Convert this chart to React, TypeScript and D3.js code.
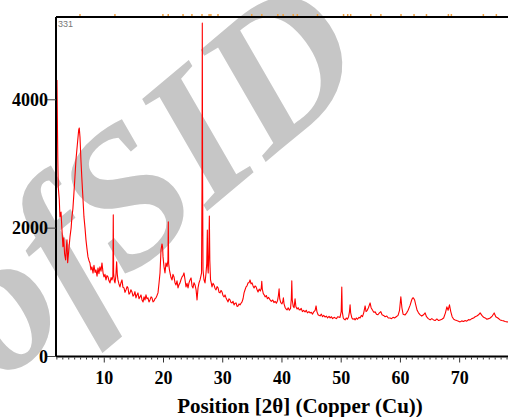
import { useMemo } from "react";
import * as d3 from "d3";

// XRD scan: 2θ (deg) and counts
const twoTheta = [
  2.01, 2.06, 2.15, 2.23, 2.4, 2.52, 2.7, 2.86, 3.02, 3.15, 3.3, 3.48, 3.6, 3.7, 3.82, 4.0, 4.21, 4.4, 4.54, 4.7,
  4.88, 5.05, 5.22, 5.45, 5.6, 5.68, 5.78, 5.9, 6.06, 6.2, 6.35, 6.57, 6.75, 6.91, 7.05, 7.25, 7.4, 7.58, 7.75, 7.92,
  8.1, 8.26, 8.45, 8.6, 8.78, 8.94, 9.1, 9.27, 9.45, 9.61, 9.8, 9.95, 10.12, 10.29, 10.45, 10.63, 10.8, 10.96, 11.15, 11.3,
  11.45, 11.52, 11.58, 11.7, 11.81, 11.95, 12.09, 12.2, 12.31, 12.48, 12.65, 12.82, 12.99, 13.15, 13.33, 13.5, 13.67, 13.85, 14.0, 14.17,
  14.34, 14.5, 14.68, 14.85, 15.02, 15.18, 15.35, 15.52, 15.69, 15.86, 16.03, 16.2, 16.37, 16.55, 16.71, 16.88, 17.04, 17.2, 17.38, 17.55,
  17.72, 17.9, 18.06, 18.23, 18.4, 18.56, 18.73, 18.9, 19.07, 19.25, 19.41, 19.58, 19.75, 19.85, 19.92, 20.09, 20.25, 20.42, 20.6, 20.75,
  20.81, 20.87, 21.0, 21.1, 21.27, 21.44, 21.6, 21.77, 21.94, 22.11, 22.28, 22.45, 22.62, 22.79, 22.96, 23.13, 23.3, 23.46, 23.63, 23.8,
  23.97, 24.14, 24.31, 24.48, 24.65, 24.82, 24.98, 25.15, 25.32, 25.5, 25.66, 25.83, 26.0, 26.17, 26.3, 26.42, 26.5, 26.55, 26.6, 26.67,
  26.84, 27.01, 27.18, 27.3, 27.4, 27.47, 27.55, 27.65, 27.74, 27.82, 27.94, 28.05, 28.19, 28.36, 28.53, 28.7, 28.87, 29.04, 29.21, 29.38,
  29.54, 29.71, 29.88, 30.05, 30.22, 30.39, 30.56, 30.73, 30.9, 31.06, 31.23, 31.4, 31.57, 31.74, 31.91, 32.08, 32.25, 32.42, 32.58, 32.75,
  32.92, 33.09, 33.26, 33.43, 33.6, 33.77, 33.94, 34.1, 34.27, 34.45, 34.61, 34.78, 34.95, 35.12, 35.29, 35.46, 35.63, 35.8, 35.96, 36.15,
  36.35, 36.5, 36.59, 36.68, 36.85, 37.0, 37.15, 37.35, 37.55, 37.75, 38.0, 38.2, 38.45, 38.65, 38.84, 39.05, 39.25, 39.4, 39.52, 39.62,
  39.8, 40.0, 40.15, 40.24, 40.35, 40.55, 40.7, 40.86, 41.05, 41.25, 41.45, 41.58, 41.66, 41.74, 41.9, 42.05, 42.21, 42.35, 42.55, 42.75,
  42.9, 43.06, 43.25, 43.45, 43.65, 43.9, 44.1, 44.3, 44.55, 44.75, 44.95, 45.15, 45.4, 45.6, 45.76, 45.9, 46.1, 46.3, 46.44, 46.65,
  46.85, 47.05, 47.29, 47.5, 47.7, 47.95, 48.13, 48.35, 48.55, 48.8, 48.98, 49.2, 49.4, 49.8, 50.0, 50.1, 50.18, 50.35, 50.5, 50.66,
  50.85, 51.05, 51.25, 51.4, 51.5, 51.6, 51.8, 52.0, 52.2, 52.35, 52.55, 52.75, 53.0, 53.19, 53.4, 53.6, 53.8, 54.04, 54.2, 54.4,
  54.6, 54.88, 55.05, 55.3, 55.5, 55.73, 55.95, 56.2, 56.45, 56.69, 56.9, 57.15, 57.42, 57.7, 57.95, 58.26, 58.5, 58.75, 59.0, 59.3,
  59.6, 59.85, 60.07, 60.25, 60.45, 60.79, 61.05, 61.3, 61.64, 61.9, 62.05, 62.2, 62.4, 62.6, 62.82, 63.05, 63.33, 63.6, 63.9, 64.17,
  64.4, 64.7, 65.02, 65.3, 65.6, 65.86, 66.15, 66.45, 66.71, 67.0, 67.3, 67.6, 67.84, 68.05, 68.28, 68.5, 68.73, 69.0, 69.24, 69.5,
  69.8, 70.08, 70.35, 70.65, 70.93, 71.2, 71.5, 71.77, 72.05, 72.35, 72.62, 72.9, 73.2, 73.46, 73.75, 74.05, 74.31, 74.6, 74.9, 75.15,
  75.5, 75.83, 76.1, 76.45, 76.84, 77.15, 77.45, 77.69, 78.0, 78.3, 78.6, 79.0,
];

const counts = [
  4310, 3900, 3100, 2640, 2450, 2175, 2250, 1970, 1710, 1850, 1600, 1505, 1700, 1817, 1460, 1650, 1863, 2000, 2175, 2300,
  2549, 2800, 3063, 3300, 3450, 3530, 3560, 3420, 3063, 2800, 2549, 2175, 2000, 1817, 1700, 1552, 1500, 1458, 1350, 1396,
  1300, 1420, 1310, 1349, 1250, 1380, 1290, 1396, 1330, 1458, 1300, 1240, 1280, 1193, 1260, 1240, 1180, 1147, 1230, 1193,
  1250, 2206, 1300, 1180, 1147, 1250, 1474, 1280, 1193, 1130, 1084, 1150, 1193, 1080, 1069, 1000, 1038, 1090, 1069, 970,
  991, 1040, 1006, 940, 960, 1010, 913, 960, 991, 900, 929, 960, 882, 850, 929, 880, 960, 900, 913, 850,
  882, 930, 913, 850, 866, 900, 913, 950, 991, 1150, 1302, 1661, 1754, 1700, 1552, 1396, 1302, 1458, 1400, 1500,
  2097, 1450, 1350, 1302, 1230, 1193, 1280, 1240, 1150, 1115, 1180, 1069, 1120, 1147, 1200, 1240, 1260, 1302, 1200, 1084,
  1140, 1069, 1150, 1193, 1225, 1100, 1069, 1150, 1115, 1040, 882, 1069, 1150, 1193, 1250, 1300, 2600, 5194, 2800, 1350,
  1193, 1147, 1302, 1450, 1972, 1400, 1302, 1600, 2190, 1500, 1193, 1150, 1084, 1140, 1115, 1060, 1038, 1090, 1069, 1000,
  991, 1030, 1006, 950, 929, 960, 913, 880, 851, 900, 882, 840, 835, 860, 804, 830, 835, 780, 788, 820,
  804, 830, 851, 900, 991, 1040, 1084, 1100, 1147, 1150, 1193, 1130, 1147, 1100, 1069, 1100, 1084, 1040, 1006, 1050,
  1020, 1060, 1170, 1050, 980, 960, 929, 950, 900, 920, 882, 860, 880, 840, 860, 830, 870, 950, 1053, 900,
  840, 820, 860, 913, 820, 760, 740, 726, 760, 720, 750, 900, 1178, 880, 780, 760, 900, 780, 740, 760,
  730, 726, 750, 700, 720, 695, 720, 680, 700, 679, 690, 660, 700, 720, 788, 700, 650, 640, 633, 660,
  620, 640, 615, 630, 601, 625, 601, 620, 590, 610, 601, 590, 620, 610, 700, 1084, 700, 600, 580, 570,
  600, 580, 620, 700, 804, 680, 600, 580, 590, 570, 600, 580, 610, 600, 640, 620, 680, 788, 700, 720,
  760, 835, 760, 720, 690, 695, 660, 650, 680, 700, 650, 640, 620, 630, 600, 601, 590, 610, 600, 620,
  640, 720, 929, 760, 660, 648, 680, 720, 800, 880, 910, 913, 880, 800, 720, 680, 648, 630, 650, 679,
  620, 590, 570, 590, 570, 560, 585, 560, 570, 580, 600, 680, 773, 720, 804, 700, 620, 580, 570, 560,
  550, 539, 555, 545, 560, 550, 575, 570, 590, 600, 620, 630, 650, 679, 640, 610, 601, 580, 590, 600,
  630, 679, 620, 600, 570, 560, 555, 545, 540, 535, 530, 528,
];

// reference-pattern markers along the top edge (2θ)
const refMarkers = [
  5.9, 11.8, 19.9, 20.8, 23.3, 24.8, 26.5, 27.7, 28.0, 29.2, 34.9, 36.6, 39.3, 40.2, 41.9, 42.6, 46.0, 50.4, 51.1, 51.6,
  55.0, 56.7, 60.1, 62.3, 64.4, 68.1, 68.6, 74.0, 76.2,
];

const xTickLabels = [10, 20, 30, 40, 50, 60, 70];
const yTickLabels = [0, 2000, 4000];
const xTitle = "Position [2θ] (Copper (Cu))";

const W = 508;
const H = 417;
const serif = "'Liberation Serif', 'Times New Roman', serif";

export default function App() {
  const left = 56;
  const top = 17;
  const bottom = 356.5;

  const x = useMemo(() => d3.scaleLinear().domain([1.85, 80]).range([left, left + 78.15 * 5.923]), []);
  const y = useMemo(() => d3.scaleLinear().domain([0, 5290]).range([bottom, top]), []);

  const data = twoTheta.map((t, i) => ({ t, c: counts[i] }));
  const line = d3
    .line<{ t: number; c: number }>()
    .x((d) => x(d.t))
    .y((d) => y(d.c));

  const right = x(80);
  const minor = d3.range(2, 80, 1);

  return (
    <svg width={W} height={H} style={{ position: "absolute", left: 0, top: 0, background: "#fff" }}>
      {/* watermark */}
      <text
        transform="translate(1,384) rotate(-40)"
        fontFamily={serif}
        fontStyle="italic"
        fontWeight="bold"
        fontSize={195}
        fill="#c6c6c6"
      >
        ofSID
      </text>

      {/* data */}
      <path d={line(data) ?? ""} fill="none" stroke="#ff0000" strokeWidth={1.1} strokeLinejoin="round" />

      {/* frame */}
      <line x1={left} x2={right} y1={top} y2={top} stroke="#000" strokeWidth={2} />
      <line x1={left} x2={left} y1={top} y2={bottom} stroke="#000" strokeWidth={2} />
      <line x1={left} x2={right} y1={bottom} y2={bottom} stroke="#000" strokeWidth={2} />

      {refMarkers.map((m) => (
        <line key={m} x1={x(m)} x2={x(m)} y1={top - 3} y2={top - 1} stroke="#f0a040" strokeWidth={1.5} />
      ))}

      <text x={left + 2} y={top + 10} fontFamily="'Liberation Sans Narrow', 'Liberation Sans', sans-serif" fontSize={9} fill="#777">
        331
      </text>

      {/* x axis ticks */}
      {minor.map((t) => (
        <line
          key={t}
          x1={x(t)}
          x2={x(t)}
          y1={bottom + 1}
          y2={bottom + (t % 10 === 0 ? 6 : 3)}
          stroke="#333"
          strokeWidth={1}
        />
      ))}
      {xTickLabels.map((t) => (
        <text
          key={t}
          x={x(t)}
          y={383.5}
          textAnchor="middle"
          fontFamily={serif}
          fontWeight="bold"
          fontSize={18}
          fill="#000"
        >
          {t}
        </text>
      ))}

      {/* y axis ticks */}
      {yTickLabels.map((t) => (
        <g key={t}>
          <line x1={left - 9} x2={left} y1={y(t)} y2={y(t)} stroke="#444" strokeWidth={1} />
          <text
            x={left - 8}
            y={y(t)}
            dy="0.35em"
            textAnchor="end"
            fontFamily={serif}
            fontWeight="bold"
            fontSize={18}
            fill="#000"
          >
            {t}
          </text>
        </g>
      ))}

      <text x={300} y={413} textAnchor="middle" fontFamily={serif} fontWeight="bold" fontSize={21} fill="#000">
        {xTitle}
      </text>
    </svg>
  );
}
